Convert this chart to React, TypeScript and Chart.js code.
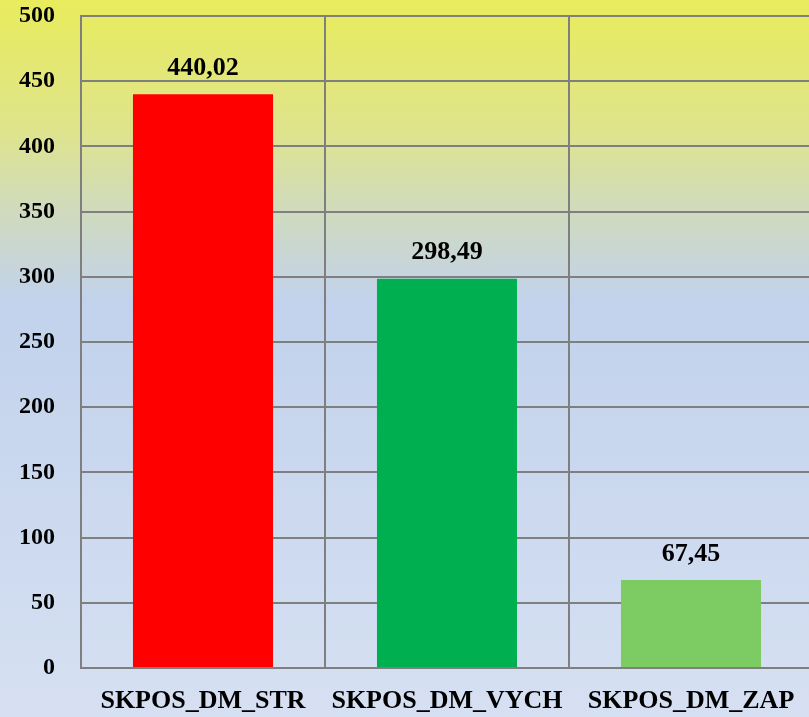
import React, { useEffect, useRef } from "react";
import { Chart, registerables } from "chart.js";

Chart.register(...registerables);

const categories = ["SKPOS_DM_STR", "SKPOS_DM_VYCH", "SKPOS_DM_ZAP"];
const values = [440.02, 298.49, 67.45];
const valueLabels = ["440,02", "298,49", "67,45"];
const barColors = ["#FF0000", "#00B050", "#7DCB63"];
const yMin = 0;
const yMax = 500;
const yStep = 50;

const bgPlugin = {
  id: "bgGradient",
  beforeDraw(chart: any) {
    const { ctx, width, height } = chart;
    const g = ctx.createLinearGradient(0, 0, 0, height);
    g.addColorStop(0, "#E8EC5C");
    g.addColorStop(0.18, "#DFE48C");
    g.addColorStop(0.3, "#CFDAC0");
    g.addColorStop(0.42, "#C2D2EC");
    g.addColorStop(1, "#D6E0F2");
    ctx.save();
    ctx.fillStyle = g;
    ctx.fillRect(0, 0, width, height);
    ctx.restore();
  },
};

const labelPlugin = {
  id: "valueLabels",
  afterDatasetsDraw(chart: any) {
    const { ctx } = chart;
    const meta = chart.getDatasetMeta(0);
    ctx.save();
    ctx.font = "bold 26px 'Liberation Serif'";
    ctx.fillStyle = "#000";
    ctx.textAlign = "center";
    ctx.textBaseline = "middle";
    meta.data.forEach((el: any, i: number) => {
      ctx.fillText(valueLabels[i], el.x, el.y - 26);
    });
    ctx.restore();
  },
};

export default function App() {
  const ref = useRef<HTMLCanvasElement>(null);
  useEffect(() => {
    document.body.style.margin = "0";
    document.body.style.overflow = "hidden";
    const chart = new Chart(ref.current!, {
      type: "bar",
      data: {
        labels: categories,
        datasets: [
          {
            data: values,
            backgroundColor: barColors,
            barPercentage: 0.574,
            categoryPercentage: 1,
          },
        ],
      },
      options: {
        animation: false,
        responsive: false,
        maintainAspectRatio: false,
        layout: { padding: { top: 16, right: 7, left: 0, bottom: 0 } },
        plugins: { legend: { display: false }, tooltip: { enabled: false } },
        scales: {
          x: {
            afterFit(scale: any) {
              scale.height = 49;
              scale.paddingLeft = 0;
              scale.paddingRight = 0;
            },
            grid: { color: "#7F7F7F", lineWidth: 2, drawTicks: false, offset: true },
            border: { color: "#7F7F7F", width: 2 },
            ticks: {
              color: "#000",
              font: { family: "'Liberation Serif'", size: 26, weight: "bold" },
              padding: 18,
            },
          },
          y: {
            min: yMin,
            max: yMax,
            afterFit(scale: any) {
              scale.width = 81;
              scale.paddingTop = 0;
              scale.paddingBottom = 0;
            },
            grid: { color: "#7F7F7F", lineWidth: 2, drawTicks: false },
            border: { color: "#7F7F7F", width: 2 },
            ticks: {
              stepSize: yStep,
              color: "#000",
              font: { family: "'Liberation Serif'", size: 24, weight: "bold" },
              padding: 26,
            },
          },
        },
      },
      plugins: [bgPlugin, labelPlugin],
    });
    return () => chart.destroy();
  }, []);
  return <canvas ref={ref} width={820} height={717} style={{ display: "block" }} />;
}
